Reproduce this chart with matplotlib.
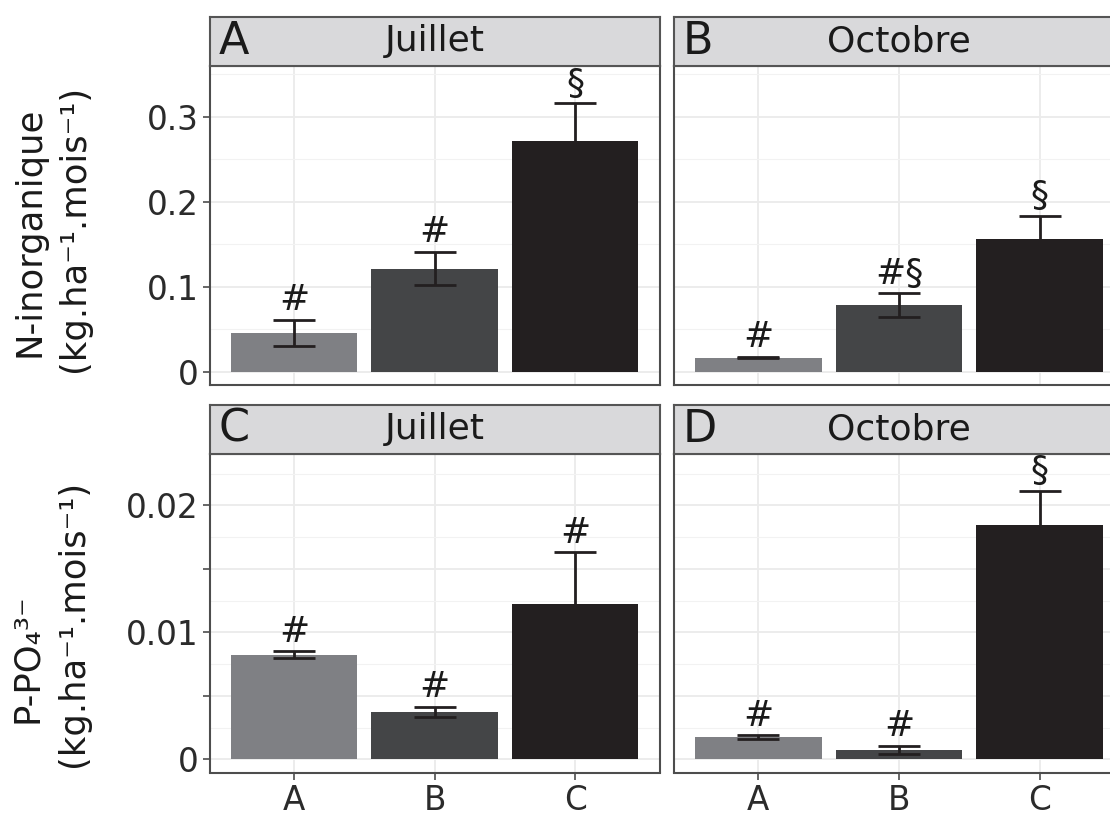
import numpy as np
import matplotlib.pyplot as plt
from matplotlib.ticker import MultipleLocator, FixedLocator

# valeurs
sites = ["A", "B", "C"]
bar_colors = ["#7f8084", "#444547", "#231f20"]

n_juillet = [0.046, 0.1215, 0.272]
n_juillet_se = [0.015, 0.0195, 0.044]
n_juillet_lab = ["#", "#", "§"]

n_octobre = [0.0168, 0.0785, 0.1565]
n_octobre_se = [0.0008, 0.014, 0.027]
n_octobre_lab = ["#", "#§", "§"]

p_juillet = [0.00824, 0.00375, 0.0122]
p_juillet_se = [0.00025, 0.0004, 0.0041]
p_juillet_lab = ["#", "#", "#"]

p_octobre = [0.00173, 0.00075, 0.01845]
p_octobre_se = [0.00015, 0.0003, 0.0027]
p_octobre_lab = ["#", "#", "§"]

panel_letters = ["A", "B", "C", "D"]
months = ["Juillet", "Octobre"]

n_ticks = [0, 0.1, 0.2, 0.3]
n_ticklabels = ["0", "0.1", "0.2", "0.3"]
p_ticks = [0, 0.005, 0.01, 0.015, 0.02]
p_ticklabels = ["0", "", "0.01", "", "0.02"]

W, H = 1110, 815
fig = plt.figure(figsize=(W / 100, H / 100), dpi=100)
fig.patch.set_facecolor("white")


def box(x0, y0, x1, y1):
    return [x0 / W, 1 - y1 / H, (x1 - x0) / W, (y1 - y0) / H]


def strip(x0, x1, y0, y1, letter, month):
    s = fig.add_axes(box(x0, y0, x1, y1))
    s.set_facecolor("#d9d9db")
    s.set_xticks([])
    s.set_yticks([])
    for sp in s.spines.values():
        sp.set_color("#555555")
        sp.set_linewidth(1.5)
    s.text(0.02, 0.5, letter, transform=s.transAxes, ha="left", va="center",
           fontsize=32, color="#1a1a1a")
    s.text(0.5, 0.5, month, transform=s.transAxes, ha="center", va="center",
           fontsize=26, color="#1a1a1a")


def panel(rect, means, ses, labels, ylim, ticks, ticklabels, minor,
          show_y, show_x):
    ax = fig.add_axes(box(*rect))
    x = np.arange(len(sites))
    ax.set_axisbelow(True)
    ax.bar(x, means, width=0.9, color=bar_colors, zorder=2)
    ax.errorbar(x, means, yerr=ses, fmt="none", ecolor="#231f20",
                elinewidth=2, capsize=15, capthick=2, zorder=3)
    for i in range(len(sites)):
        ax.annotate(labels[i], (x[i], means[i] + ses[i]), xytext=(0, 2),
                    textcoords="offset points", ha="center", va="bottom",
                    fontsize=26, color="#1a1a1a", zorder=4)
    ax.set_xlim(-0.6, len(sites) - 0.4)
    ax.set_ylim(*ylim)
    ax.yaxis.set_major_locator(FixedLocator(ticks))
    ax.yaxis.set_minor_locator(MultipleLocator(minor))
    ax.set_xticks(x)
    ax.grid(True, which="major", color="#ebebeb", linewidth=1.3)
    ax.grid(True, which="minor", axis="y", color="#f2f2f2", linewidth=0.8)
    ax.tick_params(which="minor", length=0)
    ax.tick_params(which="major", length=5, width=1.2, color="#4d4d4d",
                   labelsize=23.5, labelcolor="#2b2b2b", pad=3)
    if show_y:
        ax.set_yticklabels(ticklabels)
    else:
        ax.tick_params(axis="y", length=0, labelleft=False)
    if show_x:
        ax.set_xticklabels(sites)
    else:
        ax.tick_params(axis="x", length=0, labelbottom=False)
    for sp in ax.spines.values():
        sp.set_color("#4d4d4d")
        sp.set_linewidth(1.5)
    return ax


n_ylim = (-0.0153, 0.36)
p_ylim = (-0.00104, 0.02404)

panel((209.5, 66, 659.5, 385), n_juillet, n_juillet_se, n_juillet_lab,
      n_ylim, n_ticks, n_ticklabels, 0.05, True, False)
panel((674, 66, 1124, 385), n_octobre, n_octobre_se, n_octobre_lab,
      n_ylim, n_ticks, n_ticklabels, 0.05, False, False)
panel((209.5, 454, 659.5, 772.5), p_juillet, p_juillet_se, p_juillet_lab,
      p_ylim, p_ticks, p_ticklabels, 0.0025, True, True)
panel((674, 454, 1124, 772.5), p_octobre, p_octobre_se, p_octobre_lab,
      p_ylim, p_ticks, p_ticklabels, 0.0025, False, True)

strip(209.5, 659.5, 17, 66, panel_letters[0], months[0])
strip(674, 1124, 17, 66, panel_letters[1], months[1])
strip(209.5, 659.5, 405, 454, panel_letters[2], months[0])
strip(674, 1124, 405, 454, panel_letters[3], months[1])

# titres des axes y
unit = "(kg.ha\u207b\u00b9.mois\u207b\u00b9)"
fig.text(30 / W, 1 - 232 / H, "N-inorganique", rotation=90, ha="center",
         va="center", fontsize=25.5, color="#1a1a1a")
fig.text(74 / W, 1 - 228 / H, unit, rotation=90,
         ha="center", va="center", fontsize=25.5, color="#1a1a1a")
fig.text(27 / W, 1 - 658 / H, "P-PO\u2084\u00b3\u207b", rotation=90,
         ha="center", va="center", fontsize=25.5, color="#1a1a1a")
fig.text(73 / W, 1 - 623 / H, unit, rotation=90,
         ha="center", va="center", fontsize=25.5, color="#1a1a1a")

fig.savefig("out.png", dpi=100)
